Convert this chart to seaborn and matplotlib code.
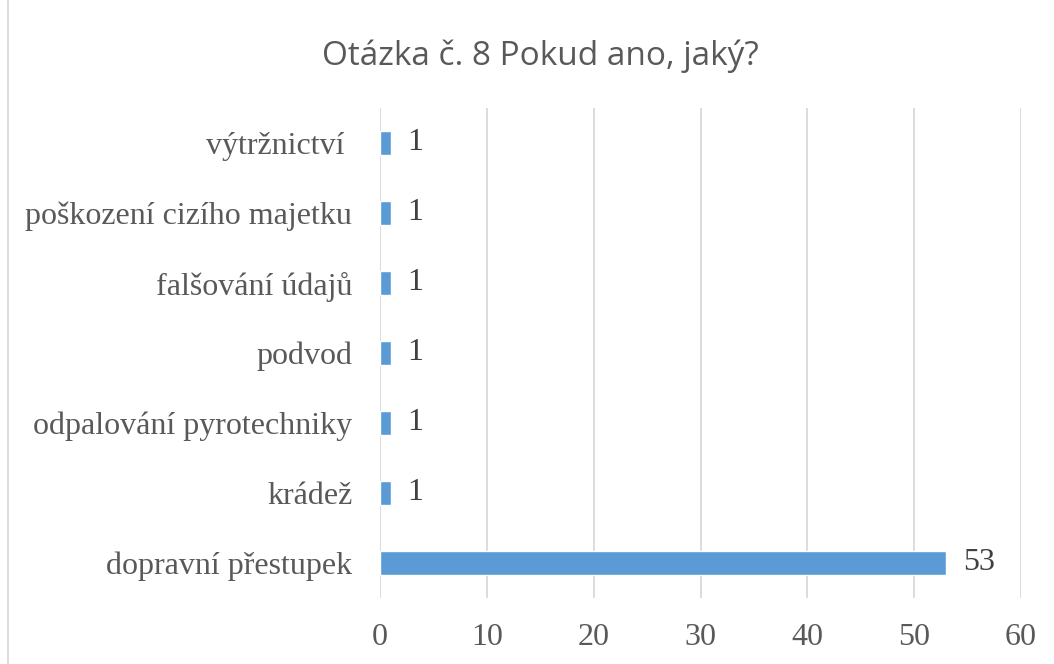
import numpy as np
import pandas as pd
import matplotlib
matplotlib.use('Agg')
import matplotlib.pyplot as plt
import seaborn as sns

# data
kategorie = ['výtržnictví ', 'poškození cizího majetku', 'falšování údajů', 'podvod',
             'odpalování pyrotechniky', 'krádež', 'dopravní přestupek']
pocty = [1, 1, 1, 1, 1, 1, 53]
ticky = [0, 10, 20, 30, 40, 50, 60]

df = pd.DataFrame({'Kategorie': kategorie, 'Pocet': pocty})

sns.set_theme(style='white')
plt.rcParams['font.family'] = ['Liberation Serif', 'DejaVu Serif']

fig = plt.figure(figsize=(10.54, 6.64), dpi=100)
ax = fig.add_axes([380 / 1054, 1 - 598 / 664, 641 / 1054, 490 / 664])

sns.barplot(data=df, y='Kategorie', x='Pocet', color='#5B9BD5', width=0.33,
            saturation=1, ax=ax, orient='h')

for bars in ax.containers:
    ax.bar_label(bars, padding=12, fontsize=23, color='#404040')

ax.set_xlim(0, 60)
ax.set_xticks(ticky)
ax.set_xlabel('')
ax.set_ylabel('')
ax.tick_params(axis='x', labelsize=23, colors='#595959', length=0, pad=18)
ax.tick_params(axis='y', labelsize=23, colors='#595959', length=0, pad=20)
ax.grid(axis='x', color='#D9D9D9', linewidth=1.3)
ax.set_axisbelow(True)
for s in ax.spines.values():
    s.set_visible(False)

fig.text(540 / 1054, 1 - 56 / 664, 'Otázka č. 8 Pokud ano, jaký?', ha='center', va='center',
         fontsize=24, color='#595959', family=['Open Sans', 'DejaVu Sans'])

# outer border of the chart
fig.patches.append(plt.Rectangle((8 / 1054, -0.01), 1.02, 1.02, transform=fig.transFigure,
                                 fill=False, edgecolor='#D9D9D9', linewidth=1.3))

fig.savefig('out.png', dpi=100)
